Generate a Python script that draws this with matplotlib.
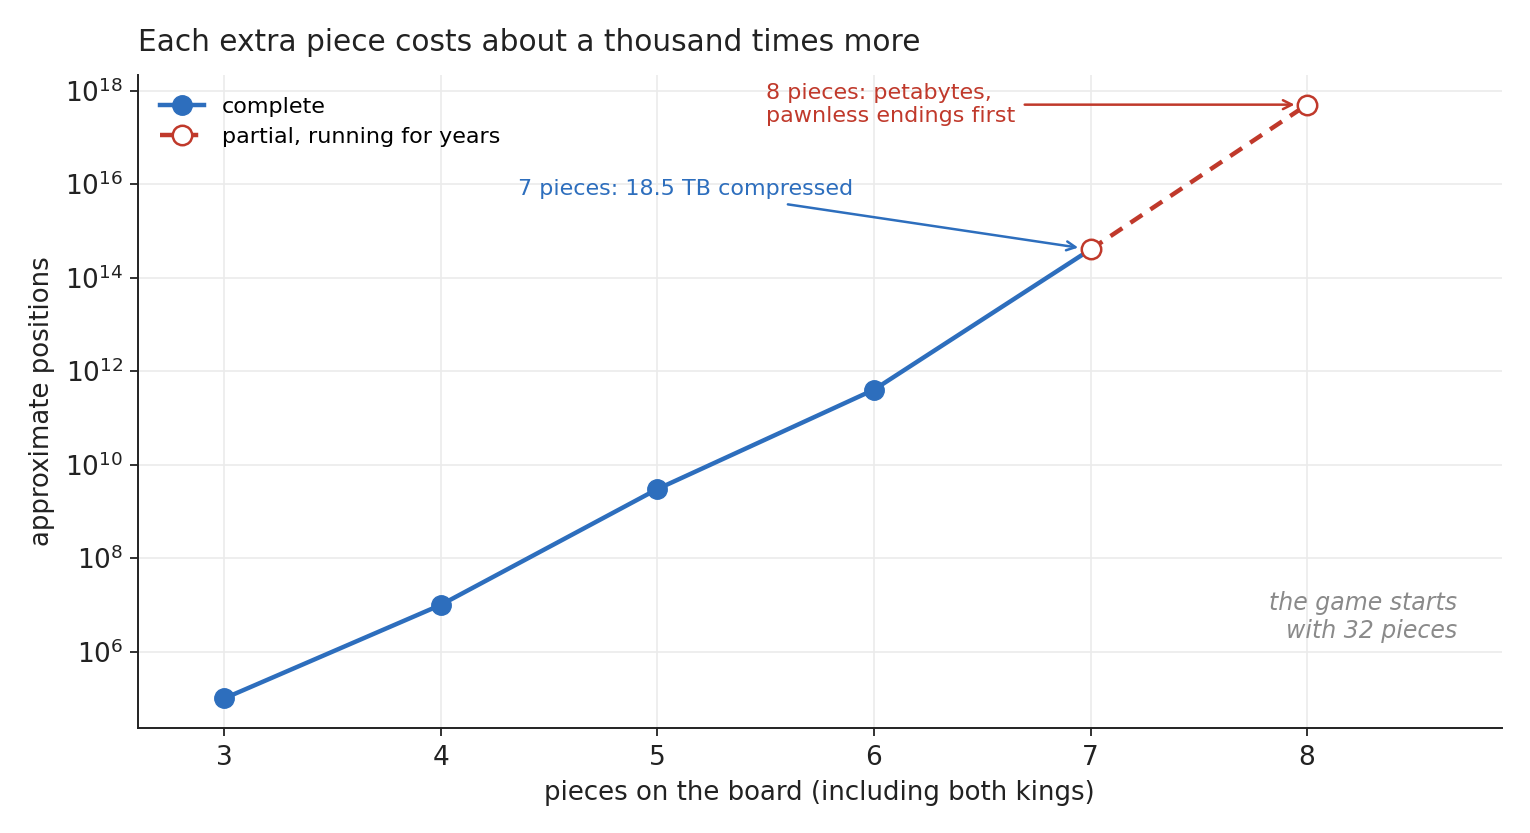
import matplotlib
matplotlib.use("Agg")
import matplotlib.pyplot as plt

# piece counts and approximate number of positions
pieces_done = [3, 4, 5, 6, 7]
positions_done = [1.0e5, 1.0e7, 3.0e9, 4.0e11, 4.0e14]
pieces_partial = [7, 8]
positions_partial = [4.0e14, 5.0e17]

blue = "#2d6ebd"
red = "#c0392b"
ink = "#222222"

plt.rcParams["font.family"] = ["DejaVu Sans"]

fig = plt.figure(figsize=(15.3, 8.33), dpi=100)
ax = fig.add_axes([0.090, 0.126, 0.8917, 0.784])

ax.plot(pieces_done, positions_done, color=blue, lw=3.2, marker="o",
        markersize=14, markevery=[0, 1, 2, 3], label="complete", zorder=3)
ax.plot(pieces_partial, positions_partial, color=red, lw=3.2, ls=(0, (3.2, 2.2)),
        marker="o", markersize=14, markerfacecolor="white",
        markeredgecolor=red, markeredgewidth=1.8,
        label="partial, running for years", zorder=4)

ax.set_yscale("log")
ax.set_xlim(2.6, 8.9)
ax.set_xticks([3, 4, 5, 6, 7, 8])
ax.set_yticks([1e6, 1e8, 1e10, 1e12, 1e14, 1e16, 1e18])
ax.minorticks_off()

ax.grid(True, color="#ebebeb", lw=1.2)
ax.set_axisbelow(True)
for s in ["top", "right"]:
    ax.spines[s].set_visible(False)
for s in ["left", "bottom"]:
    ax.spines[s].set_color(ink)
    ax.spines[s].set_linewidth(1.4)
ax.tick_params(colors=ink, labelsize=19, length=6, width=1.3)
ax.tick_params(axis="x", pad=6.5)
ax.tick_params(axis="y", pad=4.5)

ax.set_xlabel("pieces on the board (including both kings)", fontsize=18.7, color=ink, labelpad=6)
ax.set_ylabel("approximate positions", fontsize=18.7, color=ink, labelpad=7)
ax.set_title("Each extra piece costs about a thousand times more", loc="left",
             fontsize=21.3, color=ink, pad=17)

ax.annotate("7 pieces: 18.5 TB compressed", xy=(7, 4.0e14), xytext=(5.13, 7.8e15),
            ha="center", va="center", fontsize=16, color=blue,
            arrowprops=dict(arrowstyle="->", color=blue, lw=1.8, shrinkA=12,
                            shrinkB=9, mutation_scale=16))
ax.annotate("8 pieces: petabytes,\npawnless endings first", xy=(8, 5.0e17),
            xytext=(5.5, 5.0e17), ha="left", va="center", fontsize=16, color=red,
            linespacing=1.2,
            arrowprops=dict(arrowstyle="->", color=red, lw=1.8, shrinkA=5,
                            shrinkB=9, mutation_scale=16))

ax.text(0.967, 0.17, "the game starts\nwith 32 pieces", transform=ax.transAxes,
        ha="right", va="center", fontsize=17, style="italic", color="#8a8a8a",
        linespacing=1.2)

ax.legend(loc="upper left", frameon=False, fontsize=16, handlelength=2.0,
          borderaxespad=0.6, labelspacing=0.42, bbox_to_anchor=(0.0, 1.0))

fig.savefig("out.png", dpi=100)
